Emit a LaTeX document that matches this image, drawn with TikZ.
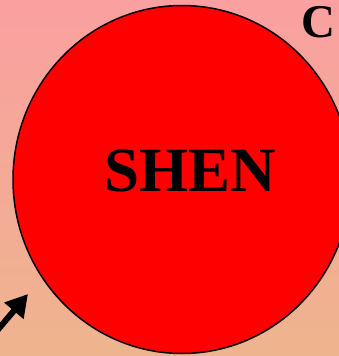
\documentclass[tikz,border=0pt]{standalone}
\usepackage{fontspec}
\setmainfont{Liberation Serif}
\usetikzlibrary{arrows.meta}
\definecolor{bgtop}{RGB}{250,160,160}
\definecolor{bgbot}{RGB}{238,180,142}
\tikzset{
  bigdisc/.style={draw=black, line width=1.5pt, fill=red},
  bigtext/.style={font=\bfseries\fontsize{63}{63}\selectfont, text=black, inner sep=0pt},
  cornerlabel/.style={font=\bfseries\fontsize{47}{47}\selectfont, text=black, inner sep=0pt},
  pointer/.style={line width=6pt, -{Triangle[length=22pt,width=24pt]}}
}
\begin{document}
\begin{tikzpicture}[x=1pt,y=-1pt]
\useasboundingbox (0,0) rectangle (339,356);
\clip (0,0) rectangle (339,356);
\shade[top color=bgtop, bottom color=bgbot] (0,0) rectangle (339,356);
\draw[bigdisc] (182,179.5) ellipse [x radius=169, y radius=174];
\node[bigtext] (shen) at (190,170.5) {SHEN};
\node[cornerlabel] (c) at (318,22.5) {C};
\coordinate (arrowstart) at (-10,339);
\coordinate (arrowtip) at (28,294);
\draw[pointer] (arrowstart) -- (arrowtip);
\end{tikzpicture}
\end{document}
